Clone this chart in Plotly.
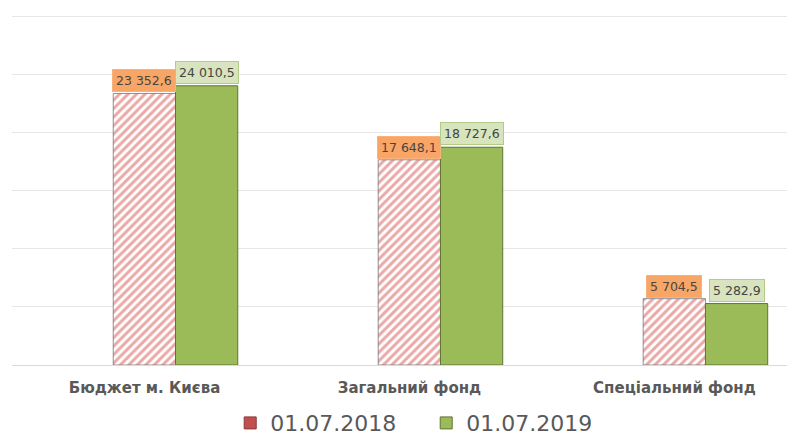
import plotly.graph_objects as go

categories = ["Бюджет м. Києва", "Загальний фонд", "Спеціальний фонд"]
series_names = ["01.07.2018", "01.07.2019"]
values_2018 = [23352.6, 17648.1, 5704.5]
values_2019 = [24010.5, 18727.6, 5282.9]
labels_2018 = ["23 352,6", "17 648,1", "5 704,5"]
labels_2019 = ["24 010,5", "18 727,6", "5 282,9"]

xpos = list(range(len(categories)))
W = 0.235
RED = "#C0504D"
GREEN = "#9BBB59"

fig = go.Figure()
fig.add_trace(go.Bar(
    x=xpos, y=values_2018, name=series_names[0], showlegend=False,
    width=W, offset=-0.118,
    marker=dict(color="white",
                pattern=dict(shape="/", fgcolor="#D5524F", bgcolor="white", size=6, solidity=0.5),
                line=dict(color="rgba(110,110,110,0.75)", width=1)),
))
fig.add_trace(go.Bar(
    x=xpos, y=values_2019, name=series_names[1], showlegend=False,
    width=W, offset=0.117,
    marker=dict(color=GREEN, line=dict(color="#5E7434", width=1)),
))
# legend entries (solid squares as in the reference legend)
fig.add_trace(go.Bar(x=[None], y=[None], name=series_names[0],
                     marker=dict(color=RED, line=dict(color="#8C3836", width=1))))
fig.add_trace(go.Bar(x=[None], y=[None], name=series_names[1],
                     marker=dict(color=GREEN, line=dict(color="#5E7434", width=1))))

lab_font = dict(family="DejaVu Sans, Verdana", size=12.5, color="#454545")
for i in xpos:
    fig.add_annotation(x=i - 0.118 + W / 2, y=values_2018[i], text=labels_2018[i],
                       showarrow=False, yanchor="bottom", yshift=1, font=lab_font,
                       bgcolor="#F8A566", bordercolor="#F7B27E", borderwidth=1, borderpad=3)
    fig.add_annotation(x=i + 0.117 + W / 2, y=values_2019[i], text=labels_2019[i],
                       showarrow=False, yanchor="bottom", yshift=2, font=lab_font,
                       bgcolor="#D7E4BD", bordercolor="#B3CB86", borderwidth=1, borderpad=3)

fig.update_layout(
    width=787, height=428,
    margin=dict(l=4, r=0, t=7, b=71, autoexpand=False),
    paper_bgcolor="white", plot_bgcolor="white",
    barmode="overlay",
    showlegend=True,
    legend=dict(orientation="h", x=0.529, xanchor="center", y=-0.166, yanchor="middle",
                font=dict(family="DejaVu Sans, Verdana", size=22, color="#595959"),
                itemwidth=30, tracegroupgap=0, entrywidth=151, entrywidthmode="pixels"),
    xaxis=dict(range=[-0.5, 2.455], tickmode="array", tickvals=xpos,
               ticktext=["<b>" + c + "</b>" for c in categories],
               tickfont=dict(family="DejaVu Sans, Verdana", size=15, color="#595959"),
               showgrid=False, zeroline=False, showline=False, ticks="", ticklabelstandoff=12,
               automargin=False),
    yaxis=dict(range=[0, 30100], tickmode="array", tickvals=[0, 5000, 10000, 15000, 20000, 25000, 30000],
               showticklabels=False,
               showgrid=True, gridcolor="#E6E6E6", gridwidth=1,
               zeroline=True, zerolinecolor="#D9D9D9", zerolinewidth=1, automargin=False),
)

fig.write_html("out.html")
